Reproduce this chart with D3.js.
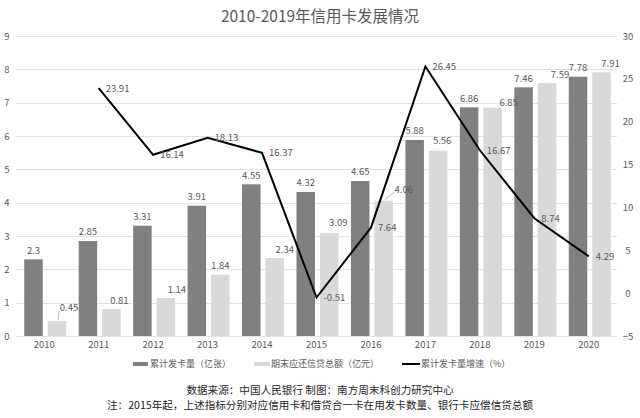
<!DOCTYPE html>
<html>
<head>
<meta charset="utf-8">
<script src="https://cdn.jsdelivr.net/npm/d3@7/dist/d3.min.js"></script>
<style>
  html, body { margin: 0; padding: 0; background: #fff; }
  svg { display: block; }
  text { font-family: "Noto Sans CJK SC", "Noto Sans", sans-serif; }
</style>
</head>
<body>
<svg id="chart" width="640" height="418"></svg>
<script>
// ---- data ----
const years = ["2010","2011","2012","2013","2014","2015","2016","2017","2018","2019","2020"];
const cardsIssued = [2.3, 2.85, 3.31, 3.91, 4.55, 4.32, 4.65, 5.88, 6.86, 7.46, 7.78];       // 累计发卡量（亿张）
const creditBalance = [0.45, 0.81, 1.14, 1.84, 2.34, 3.09, 4.06, 5.56, 6.85, 7.59, 7.91];    // 期末应还信贷总额（亿元）
const growthYears = ["2011","2012","2013","2014","2015","2016","2017","2018","2019","2020"];
const growthRate = [23.91, 16.14, 18.13, 16.37, -0.51, 7.64, 26.45, 16.67, 8.74, 4.29];      // 累计发卡量增速（%）
const leftTicks = [0,1,2,3,4,5,6,7,8,9];
const rightTicks = [-5,0,5,10,15,20,25,30];
const titleText = "2010-2019年信用卡发展情况";
const legendLabels = ["累计发卡量（亿张）", "期末应还信贷总额（亿元）", "累计发卡量增速（%）"];
const noteLines = ["数据来源：中国人民银行 制图：南方周末科创力研究中心",
                   "注：2015年起，上述指标分别对应信用卡和借贷合一卡在用发卡数量、银行卡应偿信贷总额"];

// label placement tweaks for the light-bar labels (layout only)
const lightNudgeX = [12, 8, 11, 0, 10, 9, 20, 4, 16, 13, 9];
const lightNudgeY = [13, 8, 8, 9, 8, 10, 11, 10, 5, 8, 9];
const lightLeader = [true, false, false, false, false, false, true, false, false, false, false];

// ---- layout ----
const svg = d3.select("#chart");
const plotLeft = 16, plotRight = 617, plotTop = 36, plotBottom = 336;
const textColor = "#595959";
const darkColor = "#808080";
const lightColor = "#d9d9d9";
const gridColor = "#e3e3e3";

const x = d3.scaleBand().domain(years).range([17, 616]).padding(0);
const yL = d3.scaleLinear().domain([0, 9]).range([plotBottom, plotTop]);
const yR = d3.scaleLinear().domain([-5, 30]).range([plotBottom, plotTop]);
const cx = d => x(d) + x.bandwidth() / 2;

const barW = 18.5, gap = 5;

// title
svg.append("text")
  .attr("x", 320).attr("y", 22)
  .attr("text-anchor", "middle")
  .attr("font-size", 15.5)
  .attr("fill", textColor)
  .text(titleText);

// gridlines
svg.append("g").selectAll("line").data(leftTicks).join("line")
  .attr("x1", plotLeft).attr("x2", plotRight)
  .attr("y1", d => Math.round(yL(d)) + 0.5).attr("y2", d => Math.round(yL(d)) + 0.5)
  .attr("stroke", gridColor).attr("stroke-width", 1);

// left axis
const leftAxis = d3.axisLeft(yL).tickValues(leftTicks).tickSize(0).tickPadding(0);
const gL = svg.append("g").attr("transform", "translate(7,0)").call(leftAxis);
gL.select(".domain").remove();
gL.selectAll("text").attr("text-anchor", "middle").attr("font-size", 9.5).attr("fill", textColor)
  .style("font-family", '"Noto Sans CJK SC", sans-serif');

// right axis
const rightAxis = d3.axisRight(yR).tickValues(rightTicks).tickSize(0).tickPadding(0);
const gR = svg.append("g").attr("transform", "translate(628,0)").call(rightAxis);
gR.select(".domain").remove();
gR.selectAll("text").attr("text-anchor", "middle").attr("font-size", 9.5).attr("fill", textColor)
  .style("font-family", '"Noto Sans CJK SC", sans-serif');

// bottom axis
const bottomAxis = d3.axisBottom(x).tickSize(0).tickPadding(0);
const gB = svg.append("g").attr("transform", `translate(0,${plotBottom + 5})`).call(bottomAxis);
gB.select(".domain").remove();
gB.selectAll("text").attr("font-size", 9.5).attr("fill", textColor)
  .style("font-family", '"Noto Sans CJK SC", sans-serif');

// bars
const darkX = d => cx(d) + 1 - gap / 2 - barW;
const lightX = d => cx(d) + 1 + gap / 2;

svg.append("g").selectAll("rect").data(years).join("rect")
  .attr("x", d => darkX(d))
  .attr("y", (d, i) => yL(cardsIssued[i]))
  .attr("width", barW)
  .attr("height", (d, i) => yL(0) - yL(cardsIssued[i]))
  .attr("fill", darkColor);

svg.append("g").selectAll("rect").data(years).join("rect")
  .attr("x", d => lightX(d))
  .attr("y", (d, i) => yL(creditBalance[i]))
  .attr("width", barW)
  .attr("height", (d, i) => yL(0) - yL(creditBalance[i]))
  .attr("fill", lightColor);

// dark bar labels
svg.append("g").selectAll("text").data(years).join("text")
  .attr("x", d => darkX(d) + barW / 2)
  .attr("y", (d, i) => yL(cardsIssued[i]) - 9)
  .attr("dy", "0.35em")
  .attr("text-anchor", "middle")
  .attr("font-size", 9.5).attr("fill", textColor)
  .text((d, i) => cardsIssued[i]);

// light bar labels
const lg = svg.append("g");
years.forEach((d, i) => {
  const bx = lightX(d) + barW / 2;
  const top = yL(creditBalance[i]);
  const lx = bx + lightNudgeX[i];
  const ly = top - lightNudgeY[i];
  if (lightLeader[i]) {
    lg.append("line")
      .attr("x1", bx + 1).attr("y1", top - 1)
      .attr("x2", lx - 10).attr("y2", ly + 3)
      .attr("stroke", "#a6a6a6").attr("stroke-width", 0.8);
  }
  lg.append("text")
    .attr("x", lx).attr("y", ly)
    .attr("dy", "0.35em")
    .attr("text-anchor", "middle")
    .attr("font-size", 9.5).attr("fill", textColor)
    .text(creditBalance[i]);
});

// growth line
const line = d3.line()
  .x((d, i) => cx(growthYears[i]))
  .y(d => yR(d));
svg.append("path")
  .datum(growthRate)
  .attr("d", line)
  .attr("fill", "none")
  .attr("stroke", "#000")
  .attr("stroke-width", 2)
  .attr("stroke-linejoin", "miter");

svg.append("g").selectAll("text").data(growthRate).join("text")
  .attr("x", (d, i) => cx(growthYears[i]) + 7)
  .attr("y", d => yR(d))
  .attr("dy", "0.35em")
  .attr("font-size", 9.5).attr("fill", textColor)
  .text(d => d);

// legend
const legY = 364;
const leg = svg.append("g");
const legItems = [
  {x: 133, w: 15, h: 4, color: darkColor, tx: 150},
  {x: 254, w: 16, h: 4, color: lightColor, tx: 271},
  {x: 402, w: 18, h: 2, color: "#000", tx: 421}
];
legItems.forEach((it, i) => {
  leg.append("rect")
    .attr("x", it.x).attr("y", legY - it.h / 2)
    .attr("width", it.w).attr("height", it.h)
    .attr("fill", it.color);
  leg.append("text")
    .attr("x", it.tx).attr("y", legY).attr("dy", "0.35em")
    .attr("font-size", 9).attr("fill", textColor)
    .text(legendLabels[i]);
});

// notes
svg.append("g").selectAll("text").data(noteLines).join("text")
  .attr("x", 320)
  .attr("y", (d, i) => 393.5 + i * 15.5)
  .attr("text-anchor", "middle")
  .attr("font-size", 10.6)
  .attr("font-weight", 400)
  .attr("fill", "#262626")
  .text(d => d);
</script>
</body>
</html>
